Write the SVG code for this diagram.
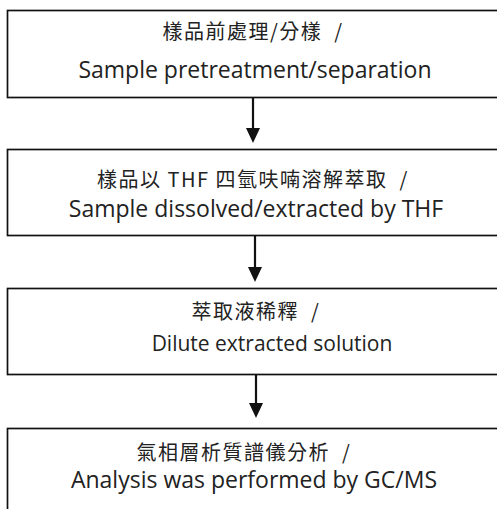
<svg xmlns="http://www.w3.org/2000/svg" width="497" height="509" viewBox="0 0 497 509">
<defs>
<style>
.box{fill:#fff;stroke:#111;stroke-width:1.7}
.zh{font-family:"Noto Sans CJK TC","Noto Sans CJK SC",sans-serif;font-size:20px;letter-spacing:1.5px;fill:#222;text-anchor:middle;white-space:pre}
.en{font-family:"Open Sans","Noto Sans",sans-serif;font-size:23px;fill:#222;text-anchor:middle}
.con{stroke:#111;stroke-width:2.2;fill:none}
.head{fill:#111}
</style>
</defs>
<rect width="497" height="509" fill="#fff"/>
<g id="node1">
<rect class="box" x="7.5" y="10.5" width="500" height="87"/>
<text class="zh" x="253" y="38.5" xml:space="preserve">樣品前處理/分樣  /</text>
<text class="en" x="255" y="78">Sample pretreatment/separation</text>
</g>
<g id="node2">
<rect class="box" x="7.5" y="149.5" width="500" height="86"/>
<text class="zh" x="253" y="186.5" xml:space="preserve">樣品以 THF 四氫呋喃溶解萃取  /</text>
<text class="en" x="256" y="217">Sample dissolved/extracted by THF</text>
</g>
<g id="node3">
<rect class="box" x="7.5" y="288.5" width="500" height="86"/>
<text class="zh" x="256" y="318.5" xml:space="preserve">萃取液稀釋  /</text>
<text class="en" x="272" y="351" style="font-size:21px">Dilute extracted solution</text>
</g>
<g id="node4">
<rect class="box" x="7.5" y="428.5" width="500" height="100"/>
<text class="zh" x="244" y="459.5" xml:space="preserve">氣相層析質譜儀分析  /</text>
<text class="en" x="254" y="488">Analysis was performed by GC/MS</text>
</g>
<g id="connectors">
<line class="con" x1="253" y1="98" x2="253" y2="130"/>
<polygon class="head" points="246,128 260,128 253,143"/>
<line class="con" x1="255" y1="236" x2="255" y2="269"/>
<polygon class="head" points="248,267 262,267 255,282"/>
<line class="con" x1="256" y1="375" x2="256" y2="405"/>
<polygon class="head" points="249,403 263,403 256,418"/>
</g>
</svg>
